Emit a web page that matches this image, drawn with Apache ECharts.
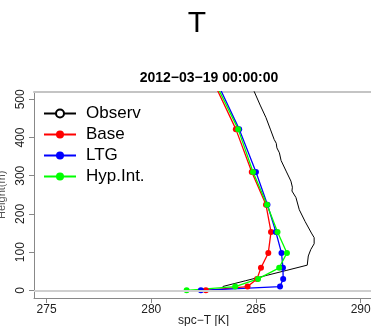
<!DOCTYPE html>
<html>
<head>
<meta charset="utf-8">
<script src="https://cdn.jsdelivr.net/npm/echarts@6/dist/echarts.min.js"></script>
<style>
  html, body { margin: 0; padding: 0; background: #fff; }
  #chart { width: 371px; height: 326px; }
</style>
</head>
<body>
<div id="chart"></div>
<script>
// model levels (m)
const modelHeights = [0, 10, 30, 59, 98, 153, 224, 310, 422, 560];
const baseT = [282.61, 284.60, 285.05, 285.24, 285.59, 285.72, 285.48, 284.80, 284.04, 282.85];
const ltgT = [282.37, 286.15, 286.30, 286.29, 286.22, 285.95, 285.55, 285.00, 284.20, 283.01];
const hypT = [281.69, 284.01, 285.10, 286.11, 286.48, 286.03, 285.53, 284.86, 284.15, 282.91];

// observed profile
const obsHeights = [10, 25, 40, 52, 66, 90, 107, 122, 138, 150, 180, 211, 243, 260, 270, 286, 310, 340, 360, 373, 385, 395, 420, 452, 485, 520, 545];
const obsT = [283.41, 284.49, 285.57, 286.44, 287.45, 287.50, 287.62, 287.78, 287.78, 287.65, 287.35, 287.07, 286.91, 286.72, 286.74, 286.67, 286.46, 286.20, 286.12, 286.00, 285.97, 285.87, 285.70, 285.48, 285.20, 284.92, 284.75];

const xTicks = [275, 280, 285, 290];
const yTicks = [0, 100, 200, 300, 400, 500];

const FONT = 'Liberation Sans';

function pairs(t, h) {
  return t.map((v, i) => [v, h[i]]);
}

function modelSeries(name, color, temps) {
  return {
    name: name,
    type: 'line',
    data: pairs(temps, modelHeights),
    symbol: 'circle',
    symbolSize: 6,
    showSymbol: true,
    clip: true,
    lineStyle: { color: color, width: 1.3 },
    itemStyle: { color: color },
    emphasis: { disabled: true },
  };
}

const chart = echarts.init(document.getElementById('chart'), null, { renderer: 'canvas' });

chart.setOption({
  animation: false,
  textStyle: { fontFamily: FONT },
  title: [
    {
      text: 'T',
      left: 192,
      top: 4,
      textAlign: 'center',
      textStyle: { fontFamily: FONT, fontSize: 30, fontWeight: 'normal', color: '#000' },
    },
    {
      text: '2012\u221203\u221219 00:00:00',
      left: 204,
      top: 66,
      textAlign: 'center',
      textStyle: { fontFamily: FONT, fontSize: 14, fontWeight: 'bold', color: '#000' },
    },
  ],
  legend: {
    left: 38,
    top: 100,
    orient: 'vertical',
    itemWidth: 32,
    itemHeight: 10,
    itemGap: 4,
    textStyle: { fontFamily: FONT, fontSize: 17, lineHeight: 17, color: '#000', padding: [0, 0, 0, 5] },
    data: ['Observ', 'Base', 'LTG', 'Hyp.Int.'],
  },
  grid: { left: 34, top: 91.7, width: 339.2, height: 206.3, outerBoundsMode: 'none' },
  xAxis: [
    {
      type: 'value',
      min: 274.4,
      max: 290.6,
      name: 'spc\u2212T [K]',
      nameLocation: 'middle',
      nameGap: 17,
      nameMoveOverlap: false,
      nameTextStyle: { fontFamily: FONT, fontSize: 12, color: '#222' },
      axisLine: { show: true, onZero: false, lineStyle: { color: '#888', width: 1 } },
      axisTick: { show: true, length: 5, customValues: xTicks, lineStyle: { color: '#888' } },
      axisLabel: { customValues: xTicks, margin: 6, fontFamily: FONT, fontSize: 12, color: '#222' },
      splitLine: { show: false },
    },
    {
      type: 'value',
      position: 'top',
      min: 274.4,
      max: 290.6,
      axisLine: { show: true, onZero: false, lineStyle: { color: '#c4c4c4', width: 2 } },
      axisTick: { show: false },
      axisLabel: { show: false },
      splitLine: { show: false },
    },
  ],
  yAxis: {
    type: 'value',
    min: -20,
    max: 520,
    name: 'Height(m)',
    nameLocation: 'middle',
    nameGap: 20,
    nameTextStyle: { fontFamily: FONT, fontSize: 11, color: '#555' },
    axisLine: { show: true, onZero: false, lineStyle: { color: '#888', width: 1 } },
    axisTick: { show: true, length: 5, customValues: yTicks, lineStyle: { color: '#888' } },
    axisLabel: { customValues: yTicks, rotate: 90, margin: 7, fontFamily: FONT, fontSize: 12, color: '#222' },
    splitLine: { show: false },
  },
  series: [
    {
      name: 'ground',
      type: 'line',
      data: [],
      silent: true,
      markLine: {
        silent: true,
        symbol: 'none',
        label: { show: false },
        lineStyle: { color: '#cfcfcf', width: 2, type: 'solid' },
        data: [{ yAxis: 0 }],
      },
    },
    {
      name: 'Observ',
      type: 'line',
      data: pairs(obsT, obsHeights),
      symbol: 'emptyCircle',
      symbolSize: 6,
      showSymbol: false,
      clip: true,
      lineStyle: { color: '#000', width: 1 },
      itemStyle: { color: '#000' },
      emphasis: { disabled: true },
    },
    modelSeries('Base', '#ff0000', baseT),
    modelSeries('LTG', '#0000ff', ltgT),
    modelSeries('Hyp.Int.', '#00ff00', hypT),
  ],
});
</script>
</body>
</html>
